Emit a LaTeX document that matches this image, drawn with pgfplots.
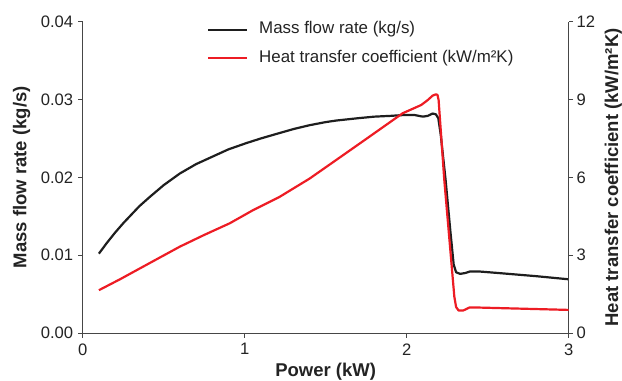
\documentclass[border=0pt]{standalone}
\usepackage{pgfplots}
\pgfplotsset{compat=1.18}
\usepackage{fontspec}
\setmainfont{Liberation Sans}
\definecolor{cred}{RGB}{237,28,36}
\definecolor{cblack}{RGB}{30,30,30}
\definecolor{caxis}{RGB}{70,70,70}
\definecolor{ctext}{RGB}{35,35,35}
\pgfplotsset{
  base/.style={
    at={(0,0)}, anchor=south west,
    scale only axis, width=486bp, height=311.3bp,
    xmin=0, xmax=3,
    tick align=outside, major tick length=4.5bp,
    every tick/.style={caxis, line width=1bp},
    axis line style={caxis, line width=1bp},
    tick label style={font=\fontsize{16.6bp}{19bp}\selectfont, text=ctext},
    label style={font=\bfseries\fontsize{18.5bp}{22bp}\selectfont, text=ctext},
    /pgf/number format/assume math mode=true,
  }
}
\pgfplotstableread{
x y
0.10 0.0102
0.15 0.0116
0.20 0.0129
0.25 0.0141
0.30 0.0152
0.35 0.0163
0.415 0.0175
0.50 0.0190
0.60 0.0205
0.70 0.0217
0.805 0.0227
0.90 0.0236
1.01 0.0244
1.10 0.0250
1.216 0.0257
1.30 0.0262
1.40 0.0267
1.50 0.0271
1.565 0.0273
1.70 0.0276
1.80 0.0278
1.90 0.0279
1.975 0.0280
2.05 0.0280
2.10 0.0278
2.13 0.0279
2.16 0.0282
2.18 0.0281
2.195 0.0276
2.21 0.0255
2.24 0.0197
2.27 0.0130
2.29 0.0088
2.305 0.0078
2.33 0.0076
2.36 0.0077
2.39 0.0079
2.45 0.0079
2.57 0.0077
2.80 0.0073
3.00 0.0069
}\massflow
\pgfplotstableread{
x y
0.10 1.65
0.23 2.07
0.40 2.65
0.60 3.33
0.75 3.78
0.908 4.23
1.05 4.73
1.216 5.25
1.40 5.95
1.565 6.67
1.75 7.48
1.975 8.47
2.09 8.79
2.13 8.98
2.16 9.15
2.18 9.20
2.19 9.18
2.197 8.98
2.232 5.90
2.294 1.40
2.305 1.00
2.32 0.87
2.35 0.87
2.386 0.98
2.45 0.98
3.00 0.89
}\htc
\begin{document}
\begin{tikzpicture}
\useasboundingbox (-82.7bp,-48bp) rectangle (539.3bp,333bp);
\begin{axis}[base,
  ymin=0, ymax=0.04, ytick={0,0.01,0.02,0.03,0.04},
  xtick={0,1,2,3},
  axis x line*=bottom, axis y line*=left,
  scaled y ticks=false,
  yticklabel style={xshift=-1.5bp, /pgf/number format/.cd, fixed, fixed zerofill, precision=2},
  xticklabel style={yshift=-2.5bp},
  xlabel={Power (kW)}, ylabel={Mass flow rate (kg/s)},
  xlabel style={at={(axis description cs:0.5,-0.124)}, anchor=center},
  ylabel style={at={(axis description cs:-0.1258,0.5)}, anchor=center},
]
\addplot[cblack, line width=2.2bp, line join=round] table {\massflow};
\end{axis}
\begin{axis}[base,
  ymin=0, ymax=12, ytick={0,3,6,9,12},
  axis y line*=right, axis x line=none,
  ylabel={Heat transfer coefficient (kW/m²K)},
  ylabel style={at={(axis description cs:1.092,0.5)}, anchor=center},
  legend style={at={(axis description cs:0.2558,1)}, anchor=north west,
    draw=none, fill=none, inner sep=0pt, outer sep=0pt,
    row sep=12.2bp, column sep=11bp,
    font=\fontsize{16.9bp}{19bp}\selectfont, text=ctext,
    nodes={inner sep=0pt, text height=12.1bp, text depth=4bp}},
  legend cell align=left,
  legend image code/.code={\draw[#1] (0bp,0bp) -- (39bp,0bp);},
]
\addlegendimage{cblack, line width=2.2bp}
\addlegendentry{Mass flow rate (kg/s)}
\addplot[cred, line width=2.2bp, line join=round] table {\htc};
\addlegendentry{Heat transfer coefficient (kW/m²K)}
\end{axis}
\end{tikzpicture}
\end{document}
